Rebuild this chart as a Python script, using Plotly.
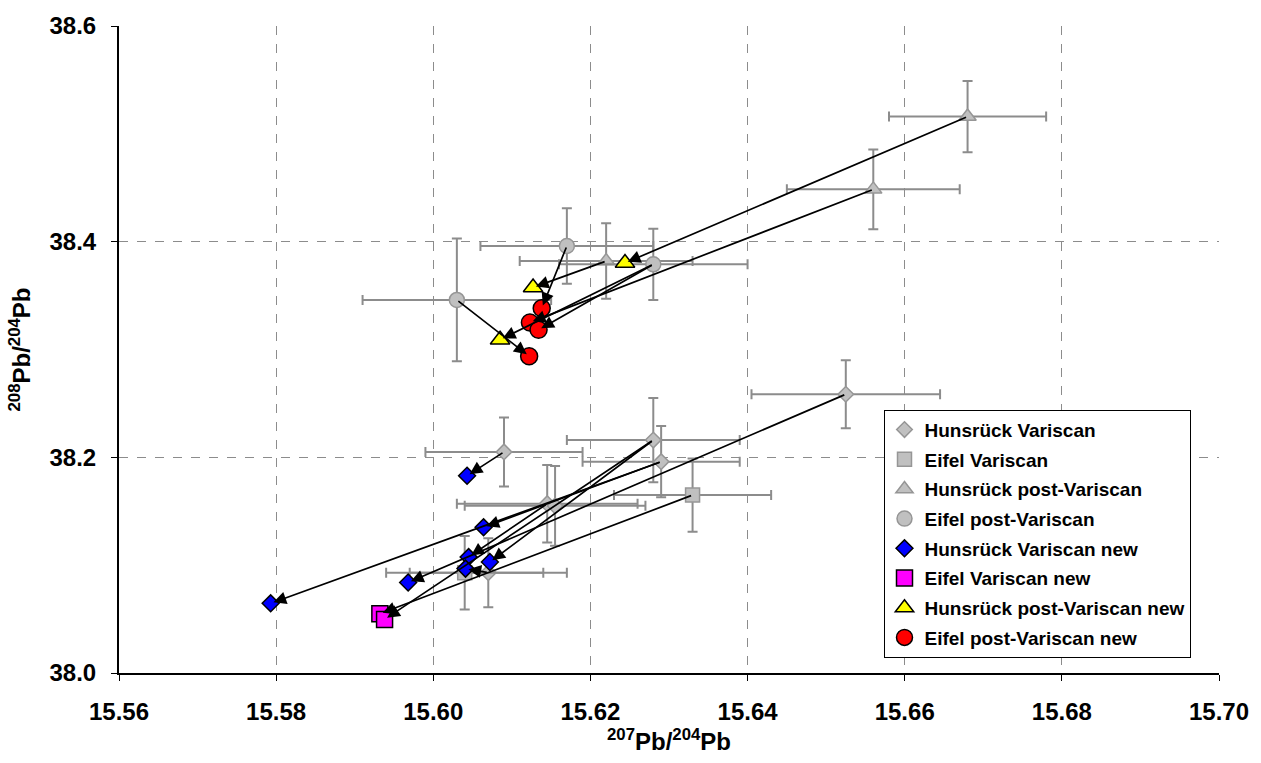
import plotly.graph_objects as go

# ---------------- data ----------------
# Hunsrück Variscan (old, grey diamonds)
hv_x = [15.609, 15.628, 15.629, 15.6145, 15.6155, 15.607, 15.6525]
hv_y = [38.205, 38.216, 38.196, 38.157, 38.155, 38.093, 38.2585]
hv_xerr = [0.010, 0.011, 0.010, 0.0115, 0.0115, 0.010, 0.012]
hv_yerr = [0.032, 0.039, 0.033, 0.036, 0.037, 0.032, 0.0315]

# Eifel Variscan (old, grey squares)
ev_x = [15.633, 15.604]
ev_y = [38.165, 38.093]
ev_xerr = [0.010, 0.010]
ev_yerr = [0.034, 0.034]

# Hunsrück post-Variscan (old, grey triangles)
hpv_x = [15.668, 15.656, 15.622]
hpv_y = [38.516, 38.4485, 38.382]
hpv_xerr = [0.010, 0.011, 0.011]
hpv_yerr = [0.033, 0.037, 0.035]

# Eifel post-Variscan (old, grey circles)
epv_x = [15.617, 15.603, 15.628]
epv_y = [38.396, 38.346, 38.379]
epv_xerr = [0.011, 0.012, 0.012]
epv_yerr = [0.035, 0.057, 0.033]

# new values
hvn_x = [15.6043, 15.6064, 15.6045, 15.6072, 15.6041, 15.5968, 15.5793]
hvn_y = [38.1829, 38.1351, 38.1075, 38.1029, 38.0968, 38.0839, 38.0646]

evn_x = [15.5932, 15.5938]
evn_y = [38.0549, 38.0497]

hpvn_x = [15.6127, 15.6244, 15.6085]
hpvn_y = [38.3575, 38.3802, 38.3091]

epvn_x = [15.6138, 15.6123, 15.6134, 15.6122]
epvn_y = [38.3382, 38.3251, 38.3183, 38.2938]

# arrows: (old series, index, new series, index)
arrows = [
    ("hv", 0, "hvn", 0),
    ("hv", 2, "hvn", 1),
    ("hv", 3, "hvn", 2),
    ("hv", 1, "hvn", 3),
    ("hv", 5, "hvn", 4),
    ("hv", 6, "hvn", 5),
    ("hv", 2, "hvn", 6),
    ("ev", 0, "evn", 0),
    ("hv", 1, "evn", 1),
    ("hpv", 2, "hpvn", 0),
    ("hpv", 0, "hpvn", 1),
    ("epv", 2, "hpvn", 2),
    ("epv", 0, "epvn", 0),
    ("hpv", 1, "epvn", 1),
    ("epv", 2, "epvn", 2),
    ("epv", 1, "epvn", 3),
]

series = {
    "hv": (hv_x, hv_y), "ev": (ev_x, ev_y), "hpv": (hpv_x, hpv_y), "epv": (epv_x, epv_y),
    "hvn": (hvn_x, hvn_y), "evn": (evn_x, evn_y), "hpvn": (hpvn_x, hpvn_y), "epvn": (epvn_x, epvn_y),
}

FONT = "Liberation Sans"
GREY_FILL = "#c0c0c0"
GREY_LINE = "#969696"
ERR = "#8c8c8c"

fig = go.Figure()


def old_trace(name, x, y, xe, ye, symbol, size):
    fig.add_trace(go.Scatter(
        x=x, y=y, mode="markers", name=name, legendgroup=name,
        marker=dict(symbol=symbol, size=size, color=GREY_FILL,
                    line=dict(color=GREY_LINE, width=1.5)),
        error_x=dict(type="data", array=xe, color=ERR, thickness=2, width=5),
        error_y=dict(type="data", array=ye, color=ERR, thickness=2, width=5),
    ))


def new_trace(name, x, y, symbol, size, color):
    fig.add_trace(go.Scatter(
        x=x, y=y, mode="markers", name=name, legendgroup=name,
        marker=dict(symbol=symbol, size=size, color=color,
                    line=dict(color="black", width=1.5)),
    ))


old_trace("Hunsrück Variscan", hv_x, hv_y, hv_xerr, hv_yerr, "diamond", 12)
old_trace("Eifel Variscan", ev_x, ev_y, ev_xerr, ev_yerr, "square", 14)
old_trace("Hunsrück post-Variscan", hpv_x, hpv_y, hpv_xerr, hpv_yerr, "triangle-up", 15)
old_trace("Eifel post-Variscan", epv_x, epv_y, epv_xerr, epv_yerr, "circle", 15)
new_trace("Hunsrück Variscan new", hvn_x, hvn_y, "diamond", 13, "#0000ff")
new_trace("Eifel Variscan new", evn_x, evn_y, "square", 16, "#ff00ff")
new_trace("Hunsrück post-Variscan new", hpvn_x, hpvn_y, "triangle-up", 17, "#ffff00")
new_trace("Eifel post-Variscan new", epvn_x, epvn_y, "circle", 17, "#ff0000")

for s0, i0, s1, i1 in arrows:
    x0, y0 = series[s0][0][i0], series[s0][1][i0]
    x1, y1 = series[s1][0][i1], series[s1][1][i1]
    fig.add_annotation(
        x=x1, y=y1, ax=x0, ay=y0, xref="x", yref="y", axref="x", ayref="y",
        text="", showarrow=True, arrowhead=2, arrowsize=1.5, arrowwidth=1.7,
        arrowcolor="black", standoff=3,
    )

axis_common = dict(
    showgrid=True, gridcolor="#8c8c8c", gridwidth=1, griddash="dash",
    zeroline=False, showline=True, linecolor="black", linewidth=2,
    ticks="outside", ticklen=6, tickcolor="black", tickwidth=1,
    tickfont=dict(family=FONT, size=24, color="black", weight="bold"),
)

fig.update_xaxes(
    range=[15.56, 15.70], dtick=0.02, tick0=15.56, tickformat=".2f",
    title=dict(text="<sup>207</sup>Pb/<sup>204</sup>Pb",
               font=dict(family=FONT, size=24, color="black", weight="bold"), standoff=8),
    ticklabelstandoff=10,
    **axis_common,
)
fig.update_yaxes(
    range=[38.0, 38.6], dtick=0.2, tick0=38.0, tickformat=".1f",
    title=dict(text="<sup>208</sup>Pb/<sup>204</sup>Pb",
               font=dict(family=FONT, size=24, color="black", weight="bold"), standoff=12),
    ticklabelstandoff=10,
    **axis_common,
)

fig.update_layout(
    width=1261, height=763,
    margin=dict(l=119, r=41, t=20, b=90),
    plot_bgcolor="white", paper_bgcolor="white",
    showlegend=True,
    legend=dict(
        x=0.695, y=0.407, xanchor="left", yanchor="top",
        bgcolor="white", bordercolor="black", borderwidth=1,
        font=dict(family=FONT, size=19, color="black", weight="bold"),
        tracegroupgap=2, itemwidth=30,
    ),
)

fig.write_html("out.html")
